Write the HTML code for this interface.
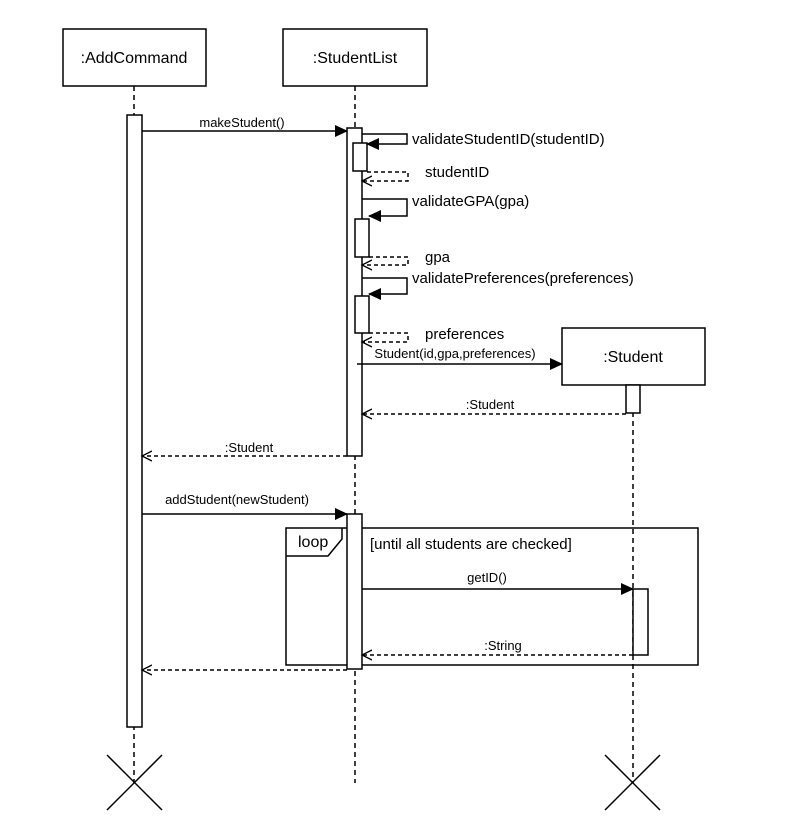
<!DOCTYPE html>
<html><head><meta charset="utf-8"><style>html,body{margin:0;padding:0;background:#fff}svg{display:block}text{font-family:"Liberation Sans",Arial,sans-serif;fill:#000}</style></head><body>
<svg width="796" height="826" viewBox="0 0 796 826" xmlns="http://www.w3.org/2000/svg">
<defs>
<marker id="f" markerWidth="13" markerHeight="12" refX="12" refY="6" orient="auto" markerUnits="userSpaceOnUse"><path d="M0,0 L13,6 L0,12 z" fill="#000"/></marker>
<marker id="o" markerWidth="12" markerHeight="12" refX="10" refY="6" orient="auto" markerUnits="userSpaceOnUse"><path d="M0,1 L10,6 L0,11" fill="none" stroke="#000" stroke-width="1.3"/></marker>
</defs>
<g stroke="#000" stroke-width="1.5" fill="none">
<line x1="134" y1="86" x2="134" y2="783" stroke-dasharray="5,4"/>
<line x1="355" y1="86" x2="355" y2="783" stroke-dasharray="5,4"/>
<line x1="633" y1="385" x2="633" y2="783" stroke-dasharray="5,4"/>
<rect x="63" y="29" width="143" height="57" fill="#fff"/>
<rect x="283" y="29" width="144" height="57" fill="#fff"/>
<rect x="562" y="328" width="143" height="57" fill="#fff"/>
<rect x="127" y="115" width="15" height="612" fill="#fff"/>
<rect x="347" y="128" width="15" height="328" fill="#fff"/>
<rect x="353" y="143" width="14" height="28" fill="#fff"/>
<rect x="355" y="219" width="14" height="38" fill="#fff"/>
<rect x="355" y="296" width="14" height="37" fill="#fff"/>
<rect x="626" y="385" width="14" height="28" fill="#fff"/>
<rect x="286" y="528" width="412" height="137"/>
<path d="M286,556 L328,556 L342,539 L342,528"/>
<rect x="347" y="514" width="15" height="155" fill="#fff"/>
<rect x="633" y="589" width="15" height="66" fill="#fff"/>
<line x1="142" y1="131" x2="347" y2="131" marker-end="url(#f)"/>
<polyline points="362,134 407,134 407,144 367,144" marker-end="url(#f)"/>
<polyline points="367,172 408,172 408,181 362,181" stroke-dasharray="4,3" marker-end="url(#o)"/>
<polyline points="362,199 407,199 407,216 369,216" marker-end="url(#f)"/>
<polyline points="369,257 408,257 408,265 362,265" stroke-dasharray="4,3" marker-end="url(#o)"/>
<polyline points="362,278 407,278 407,294 369,294" marker-end="url(#f)"/>
<polyline points="369,333 408,333 408,342 362,342" stroke-dasharray="4,3" marker-end="url(#o)"/>
<line x1="357" y1="364" x2="562" y2="364" marker-end="url(#f)"/>
<line x1="626" y1="414" x2="362" y2="414" stroke-dasharray="4,3" marker-end="url(#o)"/>
<line x1="347" y1="456" x2="142" y2="456" stroke-dasharray="4,3" marker-end="url(#o)"/>
<line x1="142" y1="514" x2="347" y2="514" marker-end="url(#f)"/>
<line x1="362" y1="589" x2="633" y2="589" marker-end="url(#f)"/>
<line x1="633" y1="655" x2="362" y2="655" stroke-dasharray="4,3" marker-end="url(#o)"/>
<line x1="347" y1="670" x2="142" y2="670" stroke-dasharray="4,3" marker-end="url(#o)"/>
<line x1="107" y1="755" x2="162" y2="810"/><line x1="162" y1="755" x2="107" y2="810"/>
<line x1="605" y1="755" x2="660" y2="810"/><line x1="660" y1="755" x2="605" y2="810"/>
</g>
<g font-size="16" text-anchor="middle">
<text x="134" y="63">:AddCommand</text>
<text x="355" y="63">:StudentList</text>
<text x="633" y="362">:Student</text>
</g>
<g font-size="15">
<text x="412" y="144">validateStudentID(studentID)</text>
<text x="425" y="177">studentID</text>
<text x="412" y="206">validateGPA(gpa)</text>
<text x="425" y="262">gpa</text>
<text x="412" y="283">validatePreferences(preferences)</text>
<text x="425" y="339">preferences</text>
<text x="298" y="547" font-size="16">loop</text>
<text x="370" y="549">[until all students are checked]</text>
</g>
<g font-size="13" text-anchor="middle">
<text x="242" y="127">makeStudent()</text>
<text x="455" y="358">Student(id,gpa,preferences)</text>
<text x="490" y="409">:Student</text>
<text x="249" y="452">:Student</text>
<text x="237" y="504">addStudent(newStudent)</text>
<text x="487" y="582">getID()</text>
<text x="503" y="650">:String</text>
</g>
</svg>
</body></html>
